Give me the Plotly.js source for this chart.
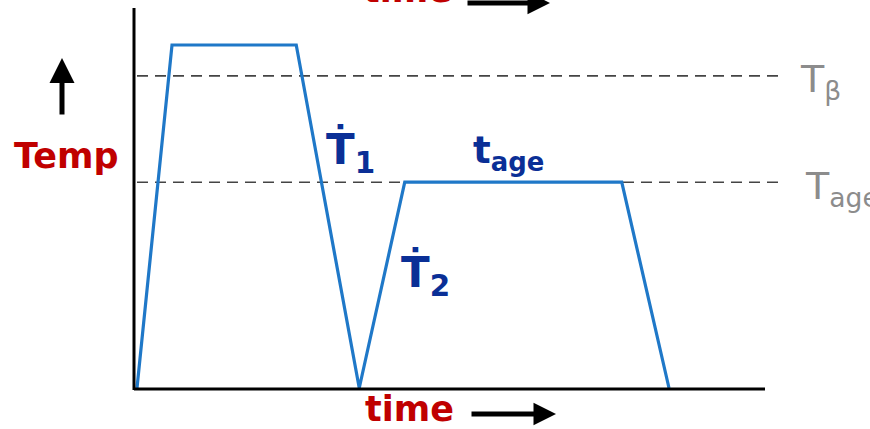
<!DOCTYPE html>
<html>
<head>
<meta charset="utf-8">
<script src="https://cdn.plot.ly/plotly-3.0.1.min.js"></script>
<style>html,body{margin:0;padding:0;background:#fff;}#chart{width:870px;height:429px;}</style>
</head>
<body>
<div id="chart"></div>
<script>
// Heat-treatment schedule (arbitrary units)
const time = [0, 1.0, 4.55, 6.35, 7.65, 13.85, 15.2];
const temp = [0, 100, 100, 0, 60, 60, 0];
const refTemps = [91, 60];          // T_beta, T_age
const refLabels = ['T<sub>β</sub>', 'T<sub>age</sub>'];
const refStart = 0, refEnd = 18.5;

const W = 870, H = 429;
const px = v => v / W;
const py = v => 1 - v / H;
const FONT = 'Comic Sans MS, DejaVu Sans, sans-serif';

const traces = [];
refTemps.forEach(t => {
  traces.push({
    x: [refStart, refEnd], y: [t, t], mode: 'lines',
    line: {color: '#444', width: 1.6, dash: '11px,7px'},
    hoverinfo: 'skip', showlegend: false
  });
});
traces.push({
  x: time, y: temp, mode: 'lines',
  line: {color: '#1f78c8', width: 3.2},
  showlegend: false
});

const ann = [
  {x: px(66), y: py(156), text: '<b>Temp</b>', font: {family: FONT, size: 35, color: '#c00000'}},
  {x: px(409), y: py(409), text: '<b>time</b>', font: {family: FONT, size: 35, color: '#c00000'}},
  {x: px(407), y: py(12), yanchor: 'bottom', text: '<b>time</b>', font: {family: FONT, size: 35, color: '#c00000'}},
  {x: px(350), y: py(152), text: '<b>Ṫ<sub>1</sub></b>', font: {family: FONT, size: 42, color: '#0a2f96'}},
  {x: px(508), y: py(153), text: '<b>t<sub>age</sub></b>', font: {family: FONT, size: 37, color: '#0a2f96'}},
  {x: px(425), y: py(275), text: '<b>Ṫ<sub>2</sub></b>', font: {family: FONT, size: 42, color: '#0a2f96'}},
  {x: px(820), y: py(82), text: refLabels[0], font: {family: FONT, size: 38, color: '#8c8c8c'}},
  {x: px(842), y: py(188), text: refLabels[1], font: {family: FONT, size: 38, color: '#8c8c8c'}},
  // arrows
  {x: px(62), y: py(58), ax: 0, ay: 58, showarrow: true, arrowhead: 2, arrowsize: 1, arrowwidth: 5, arrowcolor: '#000', text: ''},
  {x: px(556), y: py(414), ax: -86, ay: 0, showarrow: true, arrowhead: 2, arrowsize: 0.9, arrowwidth: 5, arrowcolor: '#000', text: ''},
  {x: px(550), y: py(3), ax: -84, ay: 0, showarrow: true, arrowhead: 2, arrowsize: 0.9, arrowwidth: 5, arrowcolor: '#000', text: ''}
].map(a => Object.assign({xref: 'paper', yref: 'paper', showarrow: false, xanchor: 'center', yanchor: 'middle'}, a));

const shapes = [
  {type: 'line', xref: 'paper', yref: 'paper', x0: px(134), x1: px(134), y0: py(8), y1: py(390), line: {color: '#000', width: 3}},
  {type: 'line', xref: 'paper', yref: 'paper', x0: px(134), x1: px(765), y0: py(389), y1: py(389), line: {color: '#000', width: 3}}
];

const layout = {
  width: W, height: H,
  margin: {l: 0, r: 0, t: 0, b: 0},
  paper_bgcolor: '#fff', plot_bgcolor: '#fff',
  xaxis: {range: [-137/35, 733/35], visible: false, fixedrange: true},
  yaxis: {range: [-41/3.43, 388/3.43], visible: false, fixedrange: true},
  annotations: ann,
  shapes: shapes,
  showlegend: false
};

Plotly.newPlot('chart', traces, layout, {displayModeBar: false, staticPlot: true});
</script>
</body>
</html>
